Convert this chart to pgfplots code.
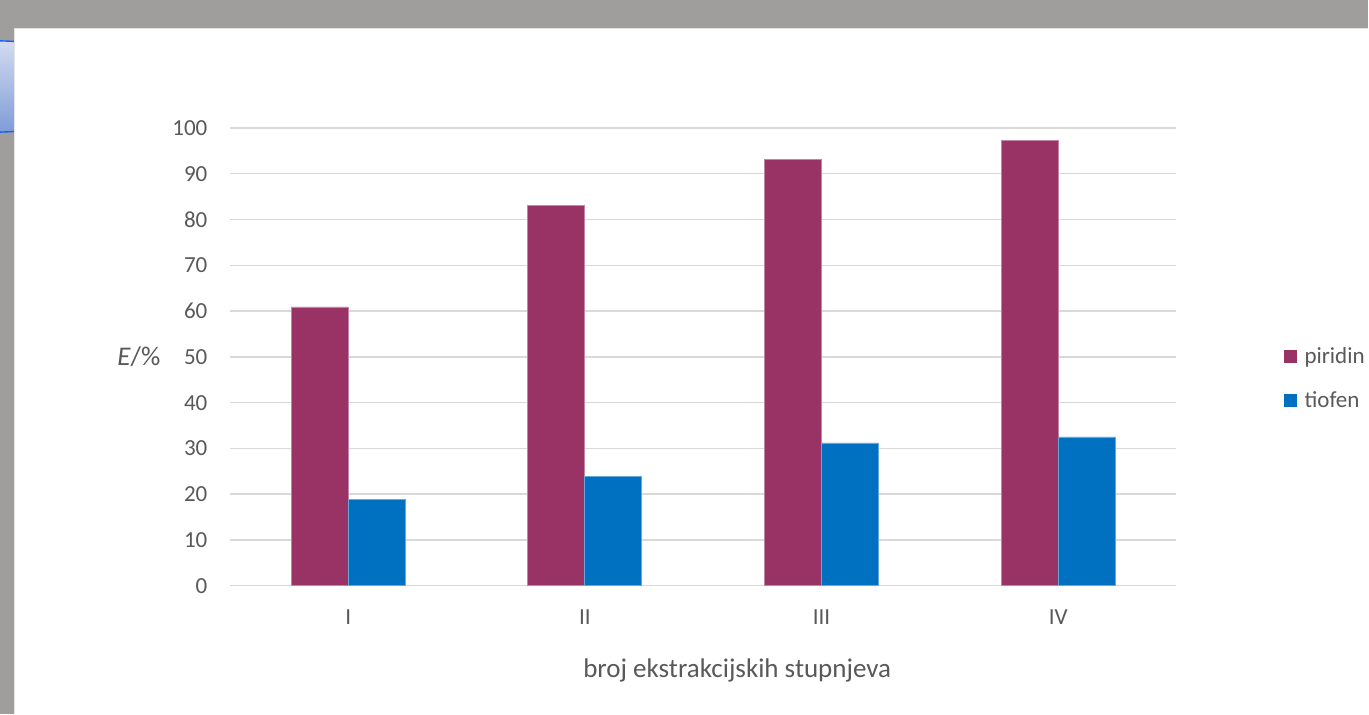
\documentclass[border=0pt]{standalone}
\usepackage{pgfplots}
\pgfplotsset{compat=1.18}
\usepackage{fontspec}
\setmainfont{Carlito}

\definecolor{txt}{HTML}{595959}
\definecolor{gridc}{HTML}{D9D9D9}
\definecolor{piridinc}{HTML}{993366}
\definecolor{tiofenc}{HTML}{0070C0}
\definecolor{frame}{HTML}{A09D9D}
\definecolor{edgec}{HTML}{E4E4E4}
\definecolor{shapetop}{HTML}{D3DCF0}
\definecolor{shapebot}{HTML}{7E9CD8}
\definecolor{shapeline}{HTML}{1F5CF5}

% extraction efficiency per number of stages
\pgfplotstableread{
stage piridin tiofen
0 60.9 18.9
1 83.1 23.8
2 93.1 31.2
3 97.2 32.5
}\datatable

\begin{document}
\begin{tikzpicture}[x=1pt,y=1pt]
  % window background and sheet
  \fill[frame] (0,0) rectangle (1369,714);
  % partly hidden shape at the left edge
  \begin{scope}
    \clip (0,0) rectangle (14,714);
    \shade[top color=shapetop, bottom color=shapebot]
      (-40,673) .. controls (0,673.5) and (10,673) .. (20,672)
      -- (20,583) .. controls (10,582) and (0,581.5) .. (-40,581.5) -- cycle;
    \draw[shapeline, line width=1.4pt]
      (-40,673) .. controls (0,673.5) and (10,673) .. (20,672);
    \draw[shapeline, line width=1.4pt]
      (20,583) .. controls (10,582) and (0,581.5) .. (-40,581.5);
  \end{scope}
  \fill[white] (14,0) rectangle (1369,686);
  \draw[edgec, line width=1.2pt] (14.6,0) -- (14.6,685.4) -- (1369,685.4);

  \begin{axis}[
    at={(230pt,128pt)}, anchor=south west,
    scale only axis, width=947pt, height=458pt,
    ybar=0pt, bar width=57pt,
    xmin=-0.5, xmax=3.5, ymin=0, ymax=100,
    xtick=data, xticklabels={I,II,III,IV},
    ytick={0,10,...,100},
    ymajorgrids,
    grid style={gridc, line width=1.5pt},
    axis line style={draw=none},
    major tick length=0pt,
    /pgf/number format/assume math mode=true,
    tick label style={font=\fontsize{23}{27}\selectfont, text=txt},
    yticklabel style={xshift=-19pt},
    xticklabel style={yshift=-20pt},
    xlabel={broj ekstrakcijskih stupnjeva},
    xlabel style={font=\fontsize{27}{31}\selectfont, text=txt,
      yshift=-28pt, xshift=34pt},
    ylabel={\textit{E}/\%},
    ylabel style={font=\fontsize{27}{31}\selectfont, text=txt, rotate=-90,
      at={(axis description cs:0,0.5)}, anchor=east, xshift=-66pt},
    legend style={draw=none, fill=none, font=\fontsize{23}{27}\selectfont,
      text=txt, at={(axis description cs:1.1099,0.453)}, anchor=west,
      row sep=24pt, nodes={inner sep=1pt}},
    legend cell align=left,
    legend image code/.code={%
      \fill[#1, draw=none] (0pt,-6.5pt) rectangle (13.5pt,6.5pt);
      \path (19.5pt,0pt);},
    clip=false,
  ]
    \addplot[fill=piridinc, draw=piridinc!60!white, line width=0.8pt]
      table[x=stage, y=piridin] {\datatable};
    \addplot[fill=tiofenc, draw=tiofenc!60!white, line width=0.8pt]
      table[x=stage, y=tiofen] {\datatable};
    \legend{piridin, tiofen}
  \end{axis}
\end{tikzpicture}
\end{document}
